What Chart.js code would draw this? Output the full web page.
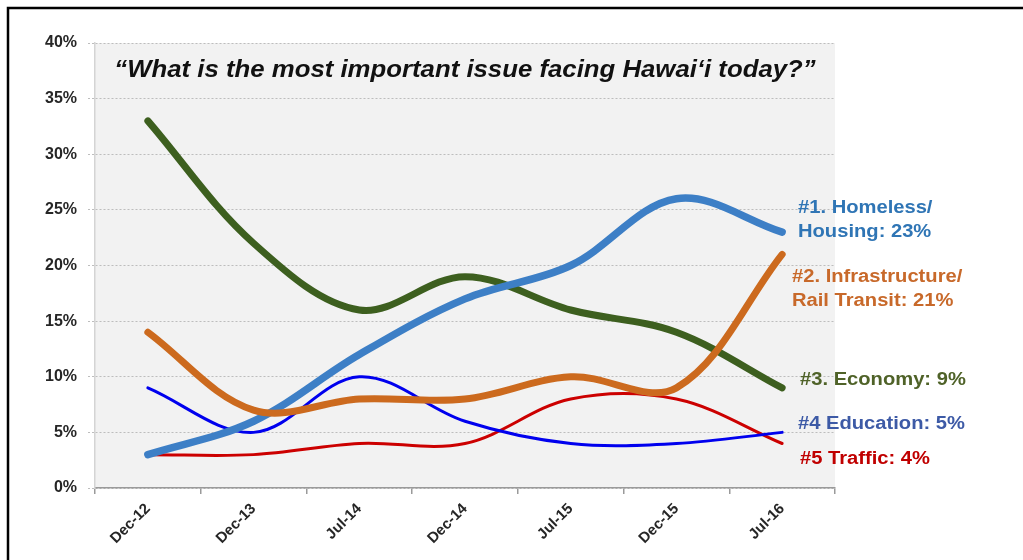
<!DOCTYPE html>
<html>
<head>
<meta charset="utf-8">
<script src="https://cdn.jsdelivr.net/npm/chart.js@4.4.1/dist/chart.umd.min.js"></script>
<style>
html, body { margin: 0; padding: 0; background: #fff; }
#wrap { position: relative; width: 1023px; height: 560px; }
</style>
</head>
<body>
<div id="wrap"><canvas id="myChart" width="1023" height="560"></canvas></div>
<script>
var fechas = ['Dec-12', 'Dec-13', 'Jul-14', 'Dec-14', 'Jul-15', 'Dec-15', 'Jul-16'];
var homeless = [3, 6, 12, 17, 20, 26, 23];
var infrastructure = [14, 7, 8, 8, 10, 9, 21];
var economy = [33, 22, 16, 19, 16, 14, 9];
var education = [9, 5, 10, 6, 4, 4, 5];
var traffic = [3, 3, 4, 4, 8, 8, 4];
var yMax = 40;
var yStep = 5;

var title = '\u201CWhat is the most important issue facing Hawai\u2018i today?\u201D';
var endLabels = [
  ['#1. Homeless/', 'Housing: 23%'],
  ['#2. Infrastructure/', 'Rail Transit: 21%'],
  ['#3. Economy: 9%'],
  ['#4 Education: 5%'],
  ['#5 Traffic: 4%']
];

// where each end label sits and its colour
var labelSpots = [
  { x: 798, y: 208, color: '#2f75b5' },
  { x: 792, y: 277, color: '#c8692a' },
  { x: 800, y: 380, color: '#4f6228' },
  { x: 798, y: 424, color: '#3d5aa6' },
  { x: 800, y: 459, color: '#c00000' }
];

function stretchText(ctx, txt, x, y, sx, align) {
  ctx.save();
  ctx.translate(x, y);
  ctx.scale(sx, 1);
  ctx.textAlign = align;
  ctx.fillText(txt, 0, 0);
  ctx.restore();
}

var decor = {
  id: 'decor',
  beforeDraw: function(chart) {
    var ctx = chart.ctx;
    var a = chart.chartArea;
    ctx.save();
    ctx.fillStyle = '#f2f2f2';
    ctx.fillRect(a.left, a.top, a.right - a.left, a.bottom - a.top);
    ctx.strokeStyle = '#000';
    ctx.lineWidth = 2.5;
    ctx.beginPath();
    ctx.moveTo(8, 560);
    ctx.lineTo(8, 8);
    ctx.lineTo(1023, 8);
    ctx.stroke();
    ctx.restore();
  },
  afterDraw: function(chart) {
    var ctx = chart.ctx;
    var a = chart.chartArea;
    ctx.save();
    ctx.textBaseline = 'middle';
    ctx.fillStyle = '#111';
    ctx.font = 'italic bold 23px "Liberation Sans", Arial, sans-serif';
    stretchText(ctx, title, (a.left + a.right) / 2, 71, 1.12, 'center');

    ctx.font = 'bold 18px "Liberation Sans", Arial, sans-serif';
    for (var i = 0; i < endLabels.length; i++) {
      ctx.fillStyle = labelSpots[i].color;
      for (var j = 0; j < endLabels[i].length; j++) {
        stretchText(ctx, endLabels[i][j], labelSpots[i].x, labelSpots[i].y + j * 24, 1.12, 'left');
      }
    }
    ctx.restore();
  }
};

var ctx = document.getElementById('myChart').getContext('2d');
var myChart = new Chart(ctx, {
  type: 'line',
  data: {
    labels: fechas,
    datasets: [{
      label: 'Homeless/Housing',
      data: homeless,
      borderColor: '#3d7fc6',
      borderWidth: 7.5,
      order: 2
    }, {
      label: 'Infrastructure/Rail Transit',
      data: infrastructure,
      borderColor: '#cc6a1e',
      borderWidth: 7,
      order: 1
    }, {
      label: 'Economy',
      data: economy,
      borderColor: '#3d5f1f',
      borderWidth: 7,
      order: 3
    }, {
      label: 'Education',
      data: education,
      borderColor: '#0000ee',
      borderWidth: 3,
      order: 4
    }, {
      label: 'Traffic',
      data: traffic,
      borderColor: '#cc0000',
      borderWidth: 3,
      order: 5
    }]
  },
  options: {
    responsive: false,
    animation: false,
    layout: { padding: { top: 43, right: 188, left: 0, bottom: 0 } },
    elements: {
      line: { tension: 0.35, borderCapStyle: 'round', borderJoinStyle: 'round', fill: false },
      point: { radius: 0, hoverRadius: 0 }
    },
    plugins: {
      legend: { display: false },
      tooltip: { enabled: false }
    },
    scales: {
      x: {
        offset: true,
        afterFit: function(scale) { scale.height = 72; },
        grid: { offset: true, drawOnChartArea: false, tickLength: 6, color: '#9a9a9a', lineWidth: 1.5 },
        border: { display: true, color: '#9a9a9a', width: 1.5 },
        ticks: {
          minRotation: 45,
          maxRotation: 45,
          padding: 6,
          color: '#262626',
          font: { family: '"Liberation Sans", Arial, sans-serif', weight: 'bold', size: 15 }
        }
      },
      y: {
        min: 0,
        max: yMax,
        afterFit: function(scale) { scale.width = 95; },
        grid: { color: '#bdbdbd', tickLength: 7, lineWidth: 1, tickBorderDash: [2, 2] },
        border: { display: true, color: '#d4d4d4', width: 1.5, dash: [2, 2] },
        ticks: {
          stepSize: yStep,
          padding: 11,
          color: '#262626',
          font: { family: '"Liberation Sans", Arial, sans-serif', weight: 'bold', size: 16 },
          callback: function(v) { return v + '%'; }
        }
      }
    }
  },
  plugins: [decor]
});
</script>
</body>
</html>
